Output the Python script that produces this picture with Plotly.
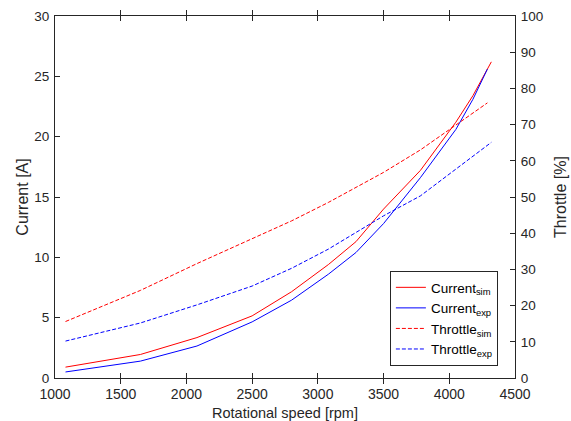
import plotly.graph_objects as go

# Rotational speed sample points [rpm]
rpm_current_sim = [1080, 1650, 2080, 2500, 2800, 3080, 3290, 3500, 3780, 4050, 4180, 4320]
rpm_current_exp = [1080, 1650, 2080, 2500, 2800, 3080, 3290, 3500, 3780, 4050, 4180, 4290]
rpm_throttle_sim = [1080, 1650, 2080, 2500, 2800, 3080, 3290, 3500, 3780, 4050, 4180, 4290]
rpm_throttle_exp = [1080, 1650, 2080, 2500, 2800, 3080, 3290, 3500, 3780, 4050, 4180, 4320]

# Current [A]
current_sim = [0.9, 1.95, 3.35, 5.15, 7.15, 9.4, 11.3, 14.0, 17.2, 21.2, 23.4, 26.2]
current_exp = [0.5, 1.4, 2.65, 4.65, 6.45, 8.6, 10.4, 12.8, 16.6, 20.6, 23.1, 25.6]

# Throttle [%]
throttle_sim = [15.6, 24.2, 31.6, 38.4, 43.4, 48.5, 52.6, 56.8, 63.0, 69.8, 73.0, 76.0]
throttle_exp = [10.2, 15.2, 20.2, 25.4, 30.3, 35.6, 40.2, 44.8, 50.3, 57.6, 61.2, 65.1]

x_ticks = [1000, 1500, 2000, 2500, 3000, 3500, 4000, 4500]
y_left_ticks = [0, 5, 10, 15, 20, 25, 30]
y_right_ticks = [0, 10, 20, 30, 40, 50, 60, 70, 80, 90, 100]

RED = "#FF0000"
BLUE = "#0000FF"
AXIS = "#262626"
FONT = "Liberation Sans, Arial, sans-serif"

fig = go.Figure()
fig.add_trace(go.Scatter(x=rpm_current_sim, y=current_sim, mode="lines",
                         name="Current<sub>sim</sub>",
                         line=dict(color=RED, width=1)))
fig.add_trace(go.Scatter(x=rpm_current_exp, y=current_exp, mode="lines",
                         name="Current<sub>exp</sub>",
                         line=dict(color=BLUE, width=1)))
fig.add_trace(go.Scatter(x=rpm_throttle_sim, y=throttle_sim, mode="lines",
                         name="Throttle<sub>sim</sub>", yaxis="y2",
                         line=dict(color=RED, width=1, dash="4px,2px")))
fig.add_trace(go.Scatter(x=rpm_throttle_exp, y=throttle_exp, mode="lines",
                         name="Throttle<sub>exp</sub>", yaxis="y2",
                         line=dict(color=BLUE, width=1, dash="4px,2px")))

axis_common = dict(
    showgrid=False, zeroline=False, showline=True, linecolor=AXIS, linewidth=1,
    ticks="inside", ticklen=5, tickcolor=AXIS, tickwidth=1,
)

fig.update_layout(
    width=571, height=421,
    margin=dict(l=55, r=56, t=16, b=43, autoexpand=False),
    paper_bgcolor="white", plot_bgcolor="white",
    font=dict(family=FONT, size=13, color=AXIS),
    showlegend=True,
    legend=dict(
        x=0.728, y=0.033, xanchor="left", yanchor="bottom",
        bgcolor="white", bordercolor=AXIS, borderwidth=1,
        font=dict(family=FONT, size=13.5, color="black"),
        tracegroupgap=0, itemwidth=30,
    ),
    xaxis=dict(
        **axis_common, range=[1000, 4500], tickvals=x_ticks, mirror="allticks",
        tickfont=dict(family=FONT, size=14, color=AXIS), ticklabelstandoff=3,
        title=dict(text="Rotational speed [rpm]",
                   font=dict(family=FONT, size=14.5, color=AXIS), standoff=10),
    ),
    yaxis=dict(
        **axis_common, range=[0, 30], tickvals=y_left_ticks,
        tickfont=dict(family=FONT, size=13.5, color=AXIS), ticklabelstandoff=2,
        title=dict(text="Current [A]",
                   font=dict(family=FONT, size=16, color=AXIS), standoff=1),
    ),
    yaxis2=dict(
        **axis_common, range=[0, 100], tickvals=y_right_ticks,
        overlaying="y", side="right",
        tickfont=dict(family=FONT, size=13.5, color=AXIS), ticklabelstandoff=2,
        title=dict(text="Throttle [%]",
                   font=dict(family=FONT, size=16, color=AXIS), standoff=12),
    ),
)

fig.write_html("out.html")
